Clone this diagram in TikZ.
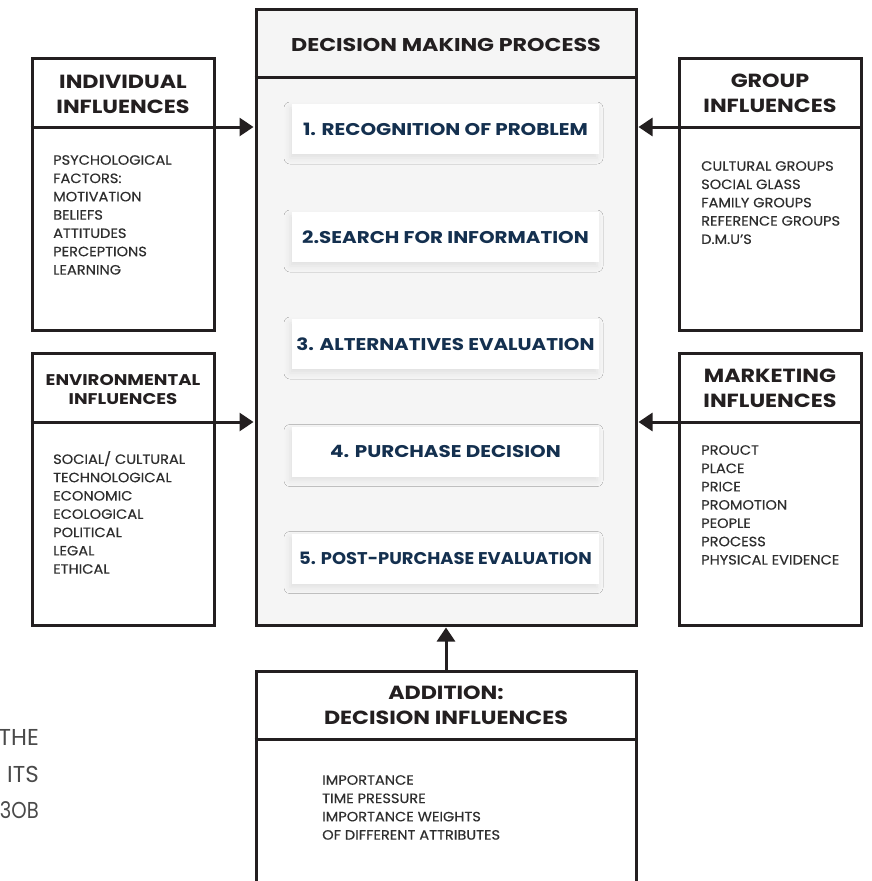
\documentclass[tikz,border=0pt]{standalone}
\usepackage{fontspec}
\setmainfont{Poppins}
\newfontfamily\headfont{Poppins}[FakeStretch=1.17]
\newfontfamily\titlefont{Poppins}[FakeStretch=1.2]
\newfontfamily\bodyfont{Poppins}[FakeStretch=1.08, FakeBold=0.35]
\usetikzlibrary{arrows.meta,shadows.blur}

\definecolor{ink}{HTML}{231F20}
\definecolor{bodytxt}{HTML}{2E2E2E}
\definecolor{navy}{HTML}{14304F}
\definecolor{panelbg}{HTML}{F5F5F5}
\definecolor{sidetxt}{HTML}{4A4A4A}

\begin{document}
\begin{tikzpicture}[x=1pt,y=-1pt,
  frame/.style={rectangle, draw=ink, line width=3pt, fill=white, inner sep=0pt},
  sidebox/.style={frame, minimum width=182pt, minimum height=272pt},
  divider/.style={draw=ink, line width=3pt},
  arr/.style={draw=ink, line width=3pt, -{Triangle[length=14pt,width=18pt]}, shorten >=1pt},
  stepbox/.style={rectangle, fill=white, inner sep=0pt, minimum width=307pt, minimum height=50pt,
    text=navy, font=\headfont\fontsize{17}{20}\selectfont\bfseries,
    blur shadow={shadow xshift=-2pt, shadow yshift=-4pt, shadow blur radius=6pt, shadow opacity=8}},
  heading/.style={align=center, text=ink, inner sep=0pt, font=\headfont\fontsize{19}{25}\selectfont\bfseries},
  listtext/.style={align=left, anchor=north west, text=bodytxt, inner sep=0pt,
    font=\bodyfont\fontsize{13.5}{18.3}\selectfont},
  sidenote/.style={anchor=base east, text=sidetxt, inner sep=0pt, font=\fontsize{23}{28}\selectfont}
]
\useasboundingbox (0,0) rectangle (871,881);
\clip (0,0) rectangle (871,881);

% central process panel
\node[frame, fill=panelbg, minimum width=380pt, minimum height=616pt] (main) at (446,317) {};
\coordinate (mainH) at (446,77);
\draw[divider] (mainH -| main.west) -- (mainH -| main.east);
\node[heading, font=\titlefont\fontsize{18.5}{20}\selectfont\bfseries] (mainT) at (446,44.5) {DECISION MAKING PROCESS};

% process steps
\node[stepbox] (s1) at (445.5,129) {1. RECOGNITION OF PROBLEM};
\node[stepbox] (s2) at (445.5,237) {2.SEARCH FOR INFORMATION};
\node[stepbox] (s3) at (445.5,344) {3. ALTERNATIVES EVALUATION};
\node[stepbox] (s4) at (445.5,451.5) {4. PURCHASE DECISION};
\node[stepbox] (s5) at (445.5,558.5) {\scalebox{0.9}[1]{5. POST-PURCHASE EVALUATION}};

% individual influences
\node[sidebox] (ind) at (123,194) {};
\coordinate (indH) at (123,127);
\draw[divider] (indH -| ind.west) -- (indH -| ind.east);
\node[heading] (indT) at (123,94) {INDIVIDUAL\\INFLUENCES};
\node[listtext] (indL) at (53,155) {PSYCHOLOGICAL\\FACTORS:\\MOTIVATION\\BELIEFS\\ATTITUDES\\PERCEPTIONS\\LEARNING};

% group influences
\node[sidebox] (grp) at (770,194) {};
\coordinate (grpH) at (770,127);
\draw[divider] (grpH -| grp.west) -- (grpH -| grp.east);
\node[heading] (grpT) at (770,93.5) {GROUP\\INFLUENCES};
\node[listtext] (grpL) at (701,161) {CULTURAL GROUPS\\SOCIAL GLASS\\FAMILY GROUPS\\REFERENCE GROUPS\\D.M.U’S};

% environmental influences
\node[sidebox] (env) at (123,489) {};
\coordinate (envH) at (123,422);
\draw[divider] (envH -| env.west) -- (envH -| env.east);
\node[heading, font=\headfont\fontsize{15.5}{19}\selectfont\bfseries] (envT) at (123,390) {ENVIRONMENTAL\\INFLUENCES};
\node[listtext] (envL) at (53,451) {SOCIAL/ CULTURAL\\TECHNOLOGICAL\\ECONOMIC\\ECOLOGICAL\\POLITICAL\\LEGAL\\ETHICAL};

% marketing influences
\node[sidebox] (mkt) at (770,489) {};
\coordinate (mktH) at (770,422);
\draw[divider] (mktH -| mkt.west) -- (mktH -| mkt.east);
\node[heading] (mktT) at (770,388.7) {MARKETING\\INFLUENCES};
\node[listtext] (mktL) at (701,445) {PROUCT\\PLACE\\PRICE\\PROMOTION\\PEOPLE\\PROCESS\\PHYSICAL EVIDENCE};

% additional decision influences (runs off the lower edge)
\node[frame, minimum width=380pt, minimum height=232pt] (add) at (446,787) {};
\coordinate (addH) at (446,739);
\draw[divider] (addH -| add.west) -- (addH -| add.east);
\node[heading] (addT) at (446,705.7) {ADDITION:\\DECISION INFLUENCES};
\node[listtext] (addL) at (322,775) {IMPORTANCE\\TIME PRESSURE\\IMPORTANCE WEIGHTS\\OF DIFFERENT ATTRIBUTES};

% connectors into the process panel
\draw[arr] (indH -| ind.east) -- (indH -| main.west);
\draw[arr] (envH -| env.east) -- (envH -| main.west);
\draw[arr] (grpH -| grp.west) -- (grpH -| main.east);
\draw[arr] (mktH -| mkt.west) -- (mktH -| main.east);
\draw[arr] (add.north) -- (main.south);

% words running in from the left margin
\node[sidenote] (w1) at (39,745) {THE};
\node[sidenote] (w2) at (39,782) {ITS};
\node[sidenote, xscale=0.85] (w3) at (39,818) {3OB};
\end{tikzpicture}
\end{document}
